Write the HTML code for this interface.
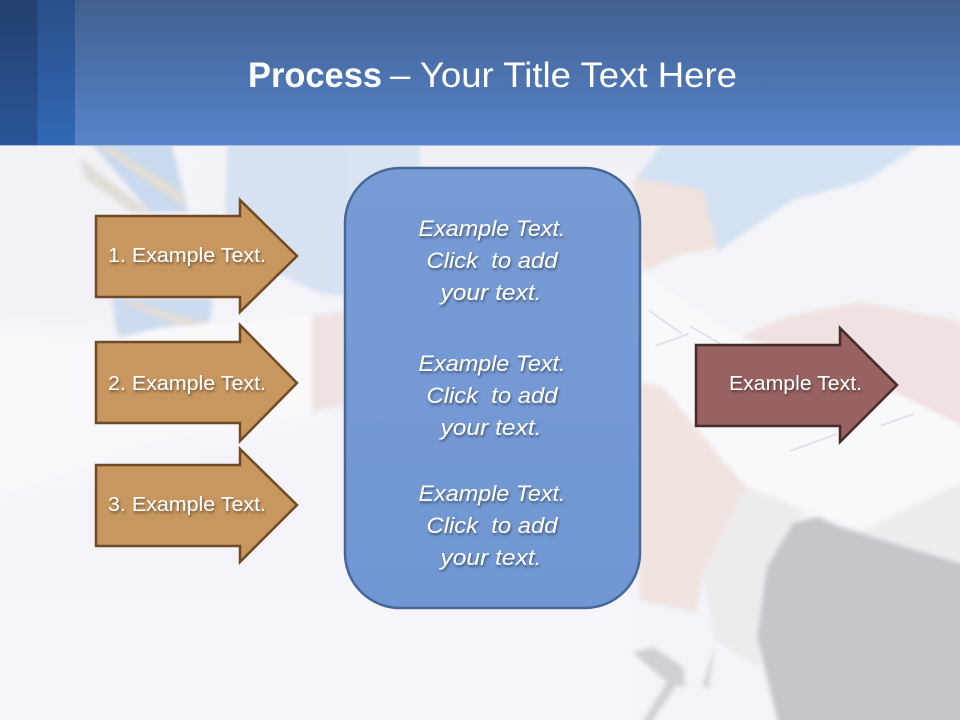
<!DOCTYPE html>
<html><head><meta charset="utf-8">
<style>html,body{margin:0;padding:0;width:960px;height:720px;overflow:hidden;background:#f3f3f9}svg{display:block}
text{font-family:"Liberation Sans",sans-serif;white-space:pre}</style></head><body>
<svg width="960" height="720" viewBox="0 0 960 720" xmlns="http://www.w3.org/2000/svg">
<defs>
<linearGradient id="hd" x1="0" y1="0" x2="0" y2="1"><stop offset="0" stop-color="#41608f"/><stop offset=".5" stop-color="#4c72ae"/><stop offset="1" stop-color="#5884c9"/></linearGradient>
<linearGradient id="h1" x1="0" y1="0" x2="0" y2="1"><stop offset="0" stop-color="#23406f"/><stop offset="1" stop-color="#2a5597"/></linearGradient>
<linearGradient id="h2" x1="0" y1="0" x2="0" y2="1"><stop offset="0" stop-color="#2a4f88"/><stop offset="1" stop-color="#3168b5"/></linearGradient>
<linearGradient id="pn" x1="0" y1="0" x2="0" y2="1"><stop offset="0" stop-color="#789bd5"/><stop offset="1" stop-color="#7097d4"/></linearGradient>
<filter id="b" filterUnits="userSpaceOnUse" x="-60" y="-60" width="1080" height="840"><feGaussianBlur stdDeviation="2.500"/></filter>
<filter id="b6" filterUnits="userSpaceOnUse" x="-60" y="-60" width="1080" height="840"><feGaussianBlur stdDeviation="9"/></filter>
<filter id="ts" x="-10%" y="-30%" width="120%" height="170%"><feDropShadow dx="1" dy="2" stdDeviation="1.2" flood-color="#000" flood-opacity=".45"/></filter>
</defs>
<rect width="960" height="720" fill="#f3f3f9"/>
<g filter="url(#b6)">
<path d="M-30 130H90L240 300 160 325 0 325 -30 330Z" fill="#f1f1f6"/>
<path d="M-30 320L110 338 330 318V420L-30 510Z" fill="#f7f7fb"/>
<path d="M-30 510L340 420V620H-30Z" fill="#f3f3f9"/>
<path d="M-30 590H640V750H-30Z" fill="#f5f5fb"/>
<path d="M640 270L760 200 880 180 990 130V340L860 310 750 340Z" fill="#f4f4f8"/>
</g>
<g filter="url(#b)">
<path d="M185 130H240L232 200 225 300H215Z" fill="#f3f3f7"/>
<path d="M228 130H345V296L320 293 275 272 225 212Z" fill="#d6e1f2"/>
<path d="M345 130H420L470 170V215H345Z" fill="#d9e3f1"/>
<path d="M420 130H700V176L640 176 610 170H420Z" fill="#f1f1f5"/>
<path d="M636 178L665 140H925L912 150 867 180 793 200 753 227 717 252 703 190Z" fill="#d3e1f3"/>
<path d="M633 178L703 190 717 248 680 254 643 272Z" fill="#f0e2dc"/>
<path d="M80 130H168L188 212H150Z" fill="#c9d9ee"/>
<path d="M80 158L150 212H132L84 178ZM97 146L185 208 182 192 110 146Z" fill="#e2ddd6"/>
<path d="M112 298H212L210 322 160 328 118 342Z" fill="#ccdbef"/>
<path d="M128 300L206 322 186 328 128 305ZM116 330L135 340H120Z" fill="#e2ddd6"/>
<path d="M160 328L312 316V412L150 440 0 495 -30 500V335L110 340Z" fill="#f9f9fc"/>
<path d="M312 316L345 312V405L312 412Z" fill="#eee3e1"/>
<path d="M643 272L740 337 840 370 900 395 990 440V470L863 530 773 497 747 487 720 457 663 387 643 380Z" fill="#f9f9fc"/>
<path d="M740 337L787 317 860 302 953 320 990 340V440L900 395 840 370Z" fill="#efe2e0"/>
<path d="M630 380L663 387 693 423 720 457 747 487 737 503 703 573 697 613 640 600Z" fill="#f0e4e1"/>
<path d="M737 503L747 487 773 497 803 510 767 567 757 637 760 667 715 640 703 573Z" fill="#ececec"/>
<path d="M863 530L990 468V570L840 527Z" fill="#ededef"/>
<path d="M818 517L840 527 990 572V750H785L757 637 767 567 793 523Z" fill="#c4c6cb"/>
<path d="M633 653L653 647 683 667 685 687 677 685 649 725H641L667 682Z" fill="#cfd0d5"/>
<path d="M715 645L703 685 708 690Z" fill="#cfd0d4"/>
</g>
<g fill="#dcdde5" opacity=".8">
<rect x="650" y="310" width="40" height="2" transform="rotate(35 650 310)"/>
<rect x="655" y="345" width="35" height="2" transform="rotate(-20 655 345)"/>
<rect x="690" y="325" width="40" height="2" transform="rotate(30 690 325)"/>
<rect x="790" y="450" width="50" height="2" transform="rotate(-20 790 450)"/>
<rect x="880" y="425" width="35" height="2" transform="rotate(-20 880 425)"/>
</g>
<rect width="960" height="145" fill="url(#hd)"/>
<rect width="37.500" height="145" fill="url(#h1)"/>
<rect x="37.500" width="37.500" height="145" fill="url(#h2)"/>
<rect y="145" width="960" height="1" fill="#a9bcdc"/>
<text x="248" y="87" font-size="35" font-weight="700" fill="#fff" textLength="134" lengthAdjust="spacingAndGlyphs">Process</text>
<text x="390" y="87" font-size="35" fill="#fff" textLength="347" lengthAdjust="spacingAndGlyphs">– Your Title Text Here</text>
<rect x="345" y="168" width="295" height="440" rx="55" fill="url(#pn)" stroke="#476897" stroke-width="2.500"/>
<g font-size="22" font-style="italic" fill="#fff" text-anchor="middle" filter="url(#ts)">
<text x="492" y="236" textLength="147" lengthAdjust="spacingAndGlyphs">Example Text.</text>
<text x="492" y="268" textLength="131" lengthAdjust="spacingAndGlyphs">Click  to add</text>
<text x="491" y="300" textLength="101" lengthAdjust="spacingAndGlyphs">your text.</text>
<text x="492" y="371" textLength="147" lengthAdjust="spacingAndGlyphs">Example Text.</text>
<text x="492" y="403" textLength="131" lengthAdjust="spacingAndGlyphs">Click  to add</text>
<text x="491" y="435" textLength="101" lengthAdjust="spacingAndGlyphs">your text.</text>
<text x="492" y="501" textLength="147" lengthAdjust="spacingAndGlyphs">Example Text.</text>
<text x="492" y="533" textLength="131" lengthAdjust="spacingAndGlyphs">Click  to add</text>
<text x="491" y="565" textLength="101" lengthAdjust="spacingAndGlyphs">your text.</text>
</g>
<g fill="#c8965f" stroke="#6f4a24" stroke-width="2.500" stroke-linejoin="miter">
<path d="M96 216H240V200L297 256 240 312V297H96Z"/>
<path d="M96 342H240V325L297 383 240 441V423H96Z"/>
<path d="M96 465H240V449L297 505 240 562V546H96Z"/>
</g>
<path d="M696 345H840V328L897 385 840 442V426H696Z" fill="#976261" stroke="#472a2a" stroke-width="2.500"/>
<g font-size="20" fill="#fff" filter="url(#ts)">
<text x="108" y="262" textLength="158" lengthAdjust="spacingAndGlyphs">1. Example Text.</text>
<text x="108" y="390" textLength="158" lengthAdjust="spacingAndGlyphs">2. Example Text.</text>
<text x="108" y="511" textLength="158" lengthAdjust="spacingAndGlyphs">3. Example Text.</text>
<text x="729" y="390" textLength="133" lengthAdjust="spacingAndGlyphs">Example Text.</text>
</g>
</svg>
</body></html>
